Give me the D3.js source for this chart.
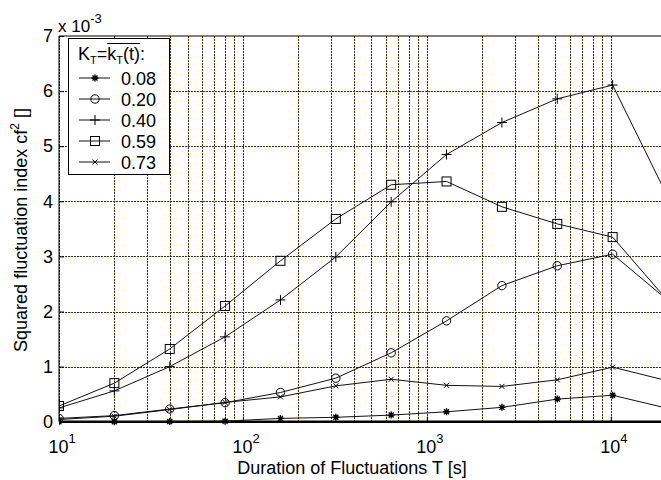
<!DOCTYPE html>
<html>
<head>
<meta charset="utf-8">
<script src="https://cdn.jsdelivr.net/npm/d3@7"></script>
<style>
  body { margin: 0; background: #fff; }
  text { font-family: "Liberation Sans", Arial, sans-serif; fill: #000; }
</style>
</head>
<body>
<div id="chart"></div>
<script>
// durations T [s]
var durations = [10, 20, 40, 80, 160, 320, 640, 1280, 2560, 5120, 10240, 20480];
// squared fluctuation index (x 10^-3), one array per K_T
var k008 = [0.0, 0.0, 0.005, 0.01, 0.06, 0.08, 0.12, 0.18, 0.26, 0.41, 0.48, 0.24];
var k020 = [0.06, 0.11, 0.23, 0.345, 0.53, 0.79, 1.25, 1.83, 2.47, 2.83, 3.04, 2.2];
var k040 = [0.25, 0.56, 1.00, 1.54, 2.21, 2.99, 3.99, 4.85, 5.43, 5.86, 6.11, 4.07];
var k059 = [0.285, 0.70, 1.32, 2.10, 2.92, 3.68, 4.30, 4.36, 3.90, 3.59, 3.35, 2.19];
var k073 = [0.04, 0.10, 0.22, 0.35, 0.45, 0.65, 0.77, 0.66, 0.64, 0.76, 0.99, 0.74];

var seriesNames = ["0.08", "0.20", "0.40", "0.59", "0.73"];
var seriesValues = [k008, k020, k040, k059, k073];
var seriesMarkers = ["star", "circle", "plus", "square", "cross"];

var yTicks = [0, 1, 2, 3, 4, 5, 6, 7];
var xTicks = [10, 100, 1000, 10000];

width = 661;
height = 480;

// SCALES
var x = d3.scaleLog().domain([10, 20480]).range([59, 668]);
var y = d3.scaleLinear().domain([0, 7]).range([421.7, 36]);

var svg = d3.select("#chart")
  .append("svg")
  .attr("width", width)
  .attr("height", height);

svg.append("defs").append("clipPath")
  .attr("id", "plot-clip")
  .append("rect")
  .attr("x", 59).attr("y", 30)
  .attr("width", width - 59).attr("height", 400);

// Grid lines (MATLAB style dotted, a few yellowish specks)
var gridVals = [];
[10, 100, 1000, 10000].forEach(d => {
  for (var m = 1; m < 10; m++) {
    if (d * m <= 20480) gridVals.push(d * m);
  }
});

var grid = svg.append("g").attr("clip-path", "url(#plot-clip)");

function gridLine(x1, y1, x2, y2) {
  grid.append("line")
    .attr("x1", x1).attr("y1", y1).attr("x2", x2).attr("y2", y2)
    .attr("stroke", "#333")
    .attr("stroke-width", 1)
    .attr("stroke-dasharray", "2,1");
  grid.append("line")
    .attr("x1", x1).attr("y1", y1).attr("x2", x2).attr("y2", y2)
    .attr("stroke", "#e8d500")
    .attr("stroke-width", 1)
    .attr("stroke-dasharray", "1,8")
    .attr("stroke-dashoffset", -2);
}

gridVals.forEach(d => {
  var px = Math.round(x(d)) + 0.5;
  gridLine(px, y(7), px, y(0));
});
yTicks.slice(1, -1).forEach(d => {
  var py = Math.round(y(d)) + 0.5;
  gridLine(x(10), py, width, py);
});

// Frame
svg.append("line")
  .attr("x1", x(10)).attr("y1", y(7)).attr("x2", width).attr("y2", y(7))
  .attr("stroke", "#000").attr("stroke-width", 1);
svg.append("line")
  .attr("x1", x(10)).attr("y1", y(7)).attr("x2", x(10)).attr("y2", y(0))
  .attr("stroke", "#000").attr("stroke-width", 1);
svg.append("line")
  .attr("x1", x(10)).attr("y1", y(0)).attr("x2", width).attr("y2", y(0))
  .attr("stroke", "#000").attr("stroke-width", 2.5);

// Y axis
var yAxis = svg.append("g")
  .attr("transform", "translate(" + x(10) + ",0)")
  .call(d3.axisLeft(y).tickValues(yTicks).tickSize(-5).tickPadding(6).tickFormat(d3.format("d")));
yAxis.select(".domain").remove();
yAxis.selectAll("text").attr("font-size", 18).attr("font-family", "Liberation Sans, Arial, sans-serif");

// X axis
var xAxis = svg.append("g")
  .attr("transform", "translate(0," + y(0) + ")")
  .call(d3.axisBottom(x).tickValues(xTicks).tickSize(-5).tickFormat(""));
xAxis.select(".domain").remove();
xAxis.selectAll(".tick").each(function(d) {
  var t = d3.select(this).append("text")
    .attr("x", -11)
    .attr("y", 31)
    .attr("font-size", 18)
    .attr("text-anchor", "start");
  t.append("tspan").text("10");
  t.append("tspan").attr("dy", -10).attr("font-size", 13).text(Math.round(Math.log10(d)));
});

// Scale factor
var sf = svg.append("text").attr("x", 58).attr("y", 32).attr("font-size", 17);
sf.append("tspan").text("x 10");
sf.append("tspan").attr("dy", -9).attr("font-size", 13).text("-3");

// Axis labels
svg.append("text")
  .attr("x", 352)
  .attr("y", 474)
  .attr("text-anchor", "middle")
  .attr("font-size", 18)
  .text("Duration of Fluctuations T [s]");

var yl = svg.append("text")
  .attr("transform", "translate(27,230) rotate(-90)")
  .attr("text-anchor", "middle")
  .attr("font-size", 18);
yl.append("tspan").text("Squared fluctuation index cf");
yl.append("tspan").attr("dy", -8).attr("font-size", 12).text("2");
yl.append("tspan").attr("dy", 8).text(" []");

// Markers
function drawMarker(sel, type, cx, cy) {
  var p;
  if (type == "circle") {
    sel.append("circle").attr("cx", cx).attr("cy", cy).attr("r", 4.2)
      .attr("fill", "none").attr("stroke", "#000").attr("stroke-width", 1);
  } else if (type == "square") {
    sel.append("rect").attr("x", cx - 4.5).attr("y", cy - 4.5)
      .attr("width", 9).attr("height", 9)
      .attr("fill", "none").attr("stroke", "#000").attr("stroke-width", 1);
  } else {
    if (type == "plus") {
      p = "M" + (cx - 5) + "," + cy + "H" + (cx + 5) + "M" + cx + "," + (cy - 5) + "V" + (cy + 5);
    } else if (type == "cross") {
      p = "M" + (cx - 2.5) + "," + (cy - 2.5) + "L" + (cx + 2.5) + "," + (cy + 2.5) +
          "M" + (cx - 2.5) + "," + (cy + 2.5) + "L" + (cx + 2.5) + "," + (cy - 2.5);
    } else {
      p = "M" + (cx - 3.5) + "," + cy + "H" + (cx + 3.5) + "M" + cx + "," + (cy - 3.5) + "V" + (cy + 3.5) +
          "M" + (cx - 2.5) + "," + (cy - 2.5) + "L" + (cx + 2.5) + "," + (cy + 2.5) +
          "M" + (cx - 2.5) + "," + (cy + 2.5) + "L" + (cx + 2.5) + "," + (cy - 2.5);
    }
    sel.append("path").attr("d", p).attr("fill", "none")
      .attr("stroke", "#000").attr("stroke-width", type == "star" ? 1.4 : 1);
  }
}

// Draw series
var line = d3.line()
  .x((d, i) => x(durations[i]))
  .y(d => y(d));

var plot = svg.append("g").attr("clip-path", "url(#plot-clip)");
seriesValues.forEach((vals, s) => {
  plot.append("path")
    .attr("d", line(vals))
    .attr("fill", "none")
    .attr("stroke", "#111")
    .attr("stroke-width", 1);
  var mg = plot.append("g");
  vals.forEach((v, i) => drawMarker(mg, seriesMarkers[s], x(durations[i]), y(v)));
});

// Legend
var lg = svg.append("g");
lg.append("rect")
  .attr("x", 68.5).attr("y", 38.5)
  .attr("width", 101).attr("height", 136)
  .attr("fill", "#fff").attr("stroke", "#000").attr("stroke-width", 1);

var title = lg.append("text").attr("x", 78).attr("y", 60).attr("font-size", 18);
title.append("tspan").text("K");
title.append("tspan").attr("dy", 4).attr("font-size", 11).text("T");
title.append("tspan").attr("dy", -4).text("=");
title.append("tspan").text("k");
title.append("tspan").attr("dy", 4).attr("font-size", 11).text("T");
title.append("tspan").attr("dy", -4).text("(t)");
title.append("tspan").text(":");

// overline over "kT(t)" (chars 3..7)
var tnode = title.node();
var ox1 = tnode.getStartPositionOfChar(3).x;
var ox2 = tnode.getEndPositionOfChar(7).x;
lg.append("line")
  .attr("x1", ox1).attr("x2", ox2)
  .attr("y1", 43.5).attr("y2", 43.5)
  .attr("stroke", "#000").attr("stroke-width", 1);

var legendY = [78, 99, 120, 141, 162];
seriesNames.forEach((name, s) => {
  lg.append("line")
    .attr("x1", 79).attr("x2", 110)
    .attr("y1", legendY[s]).attr("y2", legendY[s])
    .attr("stroke", "#111").attr("stroke-width", 1);
  drawMarker(lg, seriesMarkers[s], 95, legendY[s]);
  lg.append("text")
    .attr("x", 121).attr("y", legendY[s] + 6.5)
    .attr("font-size", 18)
    .text(name);
});
</script>
</body>
</html>
